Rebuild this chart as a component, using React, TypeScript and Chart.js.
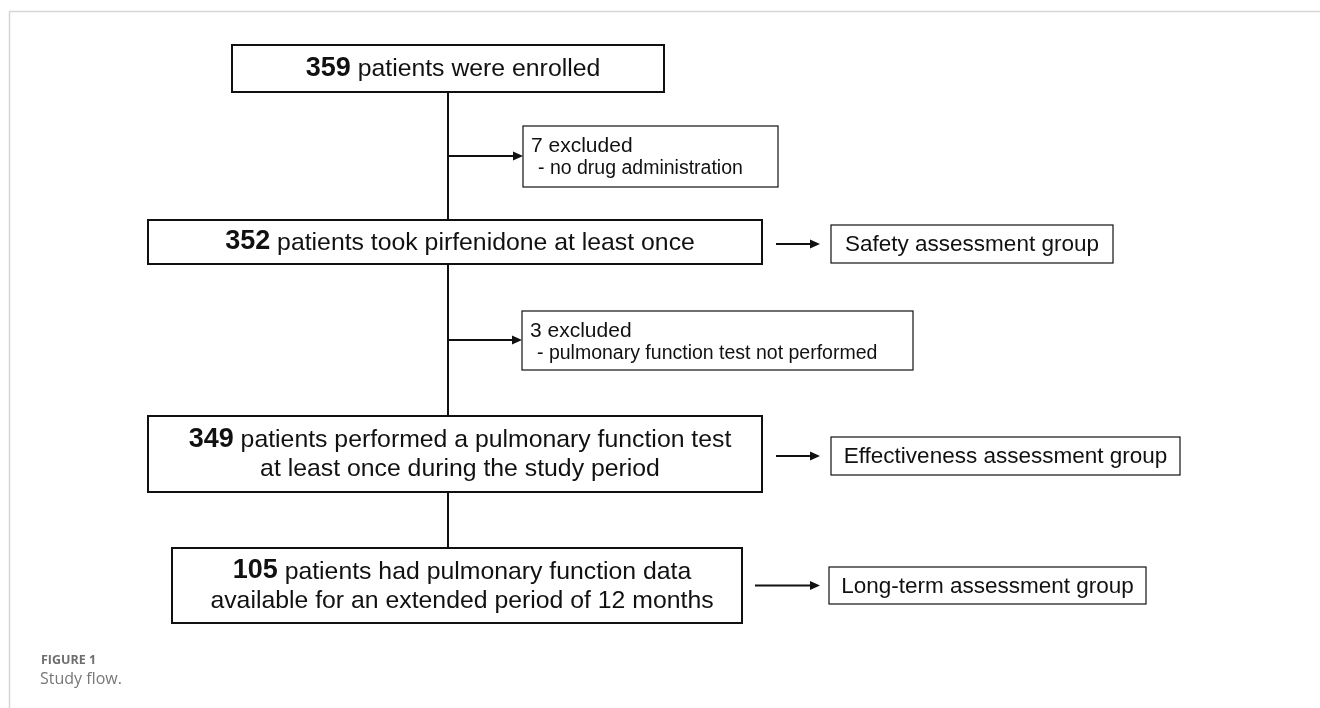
import React, { useEffect, useRef } from "react";
import { Chart, registerables } from "chart.js";

Chart.register(...registerables);

// ---- Data (content of the flow diagram) ----
const stepCounts = [359, 352, 349, 105];
const stepTexts: string[][] = [
  ["patients were enrolled"],
  ["patients took pirfenidone at least once"],
  ["patients performed a pulmonary function test", "at least once during the study period"],
  ["patients had pulmonary function data", "available for an extended period of 12 months"],
];
const exclusionCounts = [7, 3];
const exclusionReasons = ["no drug administration", "pulmonary function test not performed"];
const groupLabels = ["Safety assessment group", "Effectiveness assessment group", "Long-term assessment group"];
const captionLabel = "FIGURE 1";
const captionText = "Study flow.";

// ---- Layout (in scale units, 0..1320 x 0..708) ----
const W = 1320;
const H = 708;
const SPINE_X = 448;
const STEP_BOXES = [
  { x0: 232, x1: 664, y0: 45, y1: 92 },
  { x0: 148, x1: 762, y0: 220, y1: 264 },
  { x0: 148, x1: 762, y0: 416, y1: 492 },
  { x0: 172, x1: 742, y0: 548, y1: 623 },
];
const EXCL_BOXES = [
  { x0: 523, x1: 778, y0: 126, y1: 187, arrowY: 156 },
  { x0: 522, x1: 913, y0: 311, y1: 370, arrowY: 340 },
];
const GROUP_BOXES = [
  { x0: 831, x1: 1113, y0: 225, y1: 263, ax0: 776, ax1: 820 },
  { x0: 831, x1: 1180, y0: 437, y1: 475, ax0: 776, ax1: 820 },
  { x0: 829, x1: 1146, y0: 567, y1: 604, ax0: 755, ax1: 820 },
];

const SANS = '"Liberation Sans", Arial, sans-serif';

const flowPlugin = {
  id: "flowPlugin",
  afterDraw(chart: any) {
    const ctx: CanvasRenderingContext2D = chart.ctx;
    const xs = chart.scales.x;
    const ys = chart.scales.y;
    const px = (v: number) => xs.getPixelForValue(v);
    const py = (v: number) => ys.getPixelForValue(v);

    ctx.save();
    // frame lines
    ctx.strokeStyle = "#d6d6d6";
    ctx.lineWidth = 1.5;
    ctx.beginPath();
    ctx.moveTo(px(9), py(11.5));
    ctx.lineTo(px(W), py(11.5));
    ctx.moveTo(px(9.5), py(11.5));
    ctx.lineTo(px(9.5), py(H));
    ctx.stroke();

    const box = (b: any, lw: number) => {
      ctx.strokeStyle = "#111";
      ctx.lineWidth = lw;
      ctx.strokeRect(px(b.x0), py(b.y0), px(b.x1) - px(b.x0), py(b.y1) - py(b.y0));
    };
    const arrow = (x0: number, x1: number, y: number) => {
      ctx.strokeStyle = "#111";
      ctx.fillStyle = "#111";
      ctx.lineWidth = 2;
      ctx.beginPath();
      ctx.moveTo(px(x0), py(y));
      ctx.lineTo(px(x1) - 7, py(y));
      ctx.stroke();
      ctx.beginPath();
      ctx.moveTo(px(x1), py(y));
      ctx.lineTo(px(x1) - 10, py(y) - 4.5);
      ctx.lineTo(px(x1) - 10, py(y) + 4.5);
      ctx.closePath();
      ctx.fill();
    };

    // spine
    ctx.strokeStyle = "#111";
    ctx.lineWidth = 2;
    ctx.beginPath();
    for (let i = 0; i < STEP_BOXES.length - 1; i++) {
      ctx.moveTo(px(SPINE_X), py(STEP_BOXES[i].y1));
      ctx.lineTo(px(SPINE_X), py(STEP_BOXES[i + 1].y0));
    }
    ctx.stroke();

    const REG = `24.8px ${SANS}`;
    const BOLD = `bold 27px ${SANS}`;

    // step boxes
    ctx.textBaseline = "middle";
    STEP_BOXES.forEach((b, i) => {
      box(b, 2);
      const lines = stepTexts[i];
      const cx = (px(b.x0) + px(b.x1)) / 2 + 5;
      const cy = (py(b.y0) + py(b.y1)) / 2;
      const lh = 29;
      const top = cy - ((lines.length - 1) * lh) / 2;
      lines.forEach((t, j) => {
        const y = top + j * lh;
        ctx.fillStyle = "#111";
        if (j === 0) {
          const num = String(stepCounts[i]);
          ctx.font = BOLD;
          const nw = ctx.measureText(num).width;
          ctx.font = REG;
          const rest = " " + t;
          const rw = ctx.measureText(rest).width;
          const sx = cx - (nw + rw) / 2;
          ctx.textAlign = "left";
          ctx.font = BOLD;
          ctx.fillText(num, sx, y);
          ctx.font = REG;
          ctx.fillText(rest, sx + nw, y + 1);
        } else {
          ctx.font = REG;
          ctx.textAlign = "center";
          ctx.fillText(t, cx, y + 1);
        }
      });
    });

    // exclusion boxes
    EXCL_BOXES.forEach((b, i) => {
      arrow(SPINE_X, b.x0, b.arrowY);
      box(b, 1.2);
      ctx.fillStyle = "#111";
      ctx.textAlign = "left";
      ctx.font = `21px ${SANS}`;
      ctx.fillText(`${exclusionCounts[i]} excluded`, px(b.x0) + 8, py(b.y0) + 20);
      ctx.font = `19.5px ${SANS}`;
      ctx.fillText(`- ${exclusionReasons[i]}`, px(b.x0) + 15, py(b.y0) + 43);
    });

    // group boxes
    GROUP_BOXES.forEach((b, i) => {
      const cy = (b.y0 + b.y1) / 2;
      arrow(b.ax0, b.ax1, cy);
      box(b, 1.2);
      ctx.fillStyle = "#111";
      ctx.textAlign = "center";
      ctx.font = `22.5px ${SANS}`;
      ctx.fillText(groupLabels[i], (px(b.x0) + px(b.x1)) / 2, py(cy) + 1);
    });

    // caption
    ctx.textAlign = "left";
    ctx.fillStyle = "#6e6e6e";
    ctx.font = `bold 12.5px "Open Sans", sans-serif`;
    ctx.fillText(captionLabel, px(41), py(660));
    ctx.fillStyle = "#777";
    ctx.font = `16px "Open Sans", sans-serif`;
    ctx.fillText(captionText, px(40), py(679));
    ctx.restore();
  },
};

export default function App() {
  const ref = useRef<HTMLCanvasElement>(null);
  useEffect(() => {
    document.body.style.margin = "0";
    const chart = new Chart(ref.current as HTMLCanvasElement, {
      type: "scatter",
      data: { datasets: [{ data: [], pointRadius: 0 }] },
      options: {
        animation: false,
        responsive: false,
        maintainAspectRatio: false,
        layout: { padding: 0 },
        plugins: { legend: { display: false }, tooltip: { enabled: false }, title: { display: false } },
        scales: {
          x: { type: "linear", min: 0, max: W, display: false },
          y: { type: "linear", min: 0, max: H, reverse: true, display: false },
        },
      },
      plugins: [flowPlugin],
    });
    return () => chart.destroy();
  }, []);
  return (
    <div style={{ width: W, height: H, background: "#fff" }}>
      <canvas ref={ref} width={W} height={H} style={{ display: "block", width: W, height: H }} />
    </div>
  );
}
